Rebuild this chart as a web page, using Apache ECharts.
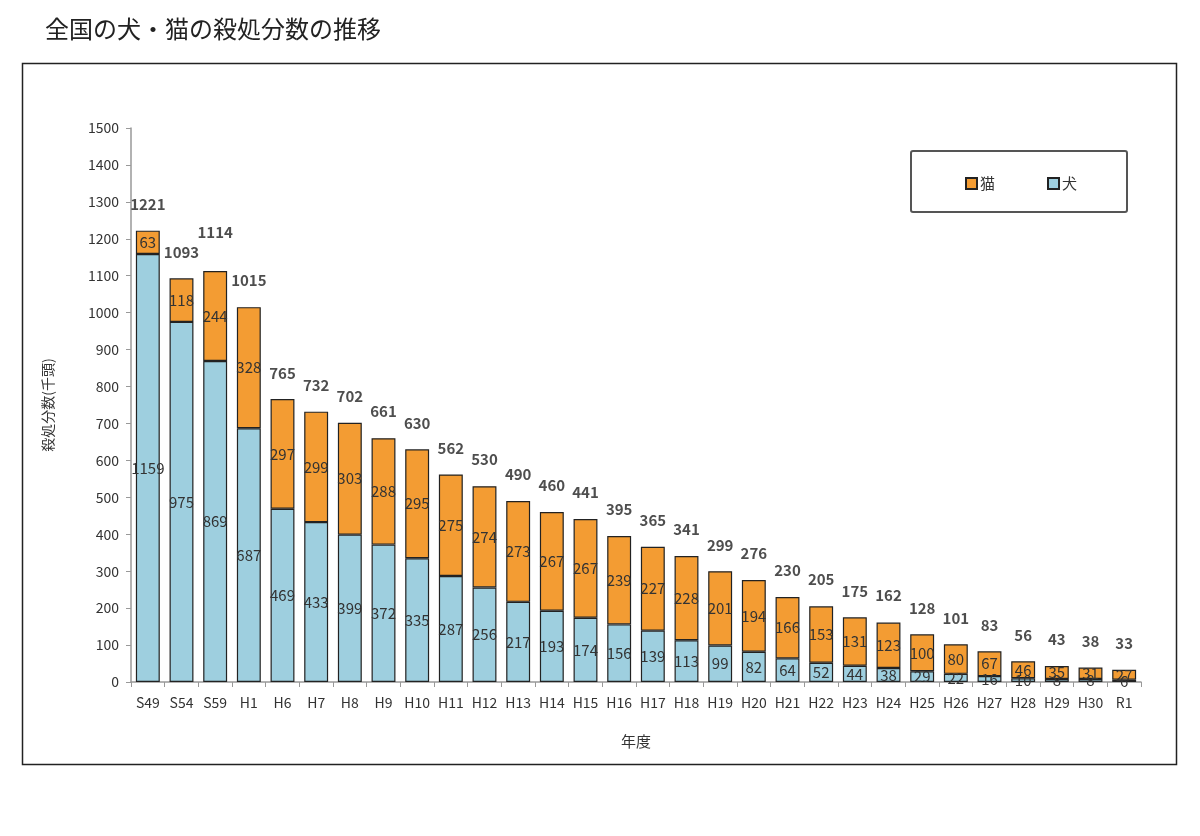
<!DOCTYPE html>
<html>
<head>
<meta charset="utf-8">
<script src="https://cdn.jsdelivr.net/npm/echarts@6/dist/echarts.min.js"></script>
<style>
html,body{margin:0;padding:0;background:#fff;}
#c{width:1200px;height:836px;}
</style>
</head>
<body>
<div id="c"></div>
<script>
const categories = ['S49','S54','S59','H1','H6','H7','H8','H9','H10','H11','H12','H13','H14','H15','H16','H17','H18','H19','H20','H21','H22','H23','H24','H25','H26','H27','H28','H29','H30','R1'];
const dogs = [1159,975,869,687,469,433,399,372,335,287,256,217,193,174,156,139,113,99,82,64,52,44,38,29,22,16,10,8,8,6];
const cats = [63,118,244,328,297,299,303,288,295,275,274,273,267,267,239,227,228,201,194,166,153,131,123,100,80,67,46,35,31,27];
const totals = [1221,1093,1114,1015,765,732,702,661,630,562,530,490,460,441,395,365,341,299,276,230,205,175,162,128,101,83,56,43,38,33];
const yTicks = {min:0, max:1500, interval:100};

const FONT = '"Noto Sans CJK JP", "Noto Sans", sans-serif';
const totalData = totals.map((v, i) => i === 2 ? {value: v, label: {distance: 31}} : v);
const chart = echarts.init(document.getElementById('c'));
chart.setOption({
  animation:false,
  textStyle:{fontFamily:FONT},
  title:{text:'全国の犬・猫の殺処分数の推移', left:40, top:12,
    textStyle:{fontSize:24, fontWeight:'normal', color:'#222', fontFamily:FONT}},
  graphic:[
    {type:'rect', shape:{x:22.5,y:63.5,width:1154,height:701}, style:{fill:'none', stroke:'#222', lineWidth:1.5}, silent:true},
    {type:'rect', shape:{x:911,y:151,width:216,height:61, r:2}, style:{fill:'#fff', stroke:'#555', lineWidth:2}, silent:true, z:0}
  ],
  legend:{left:960, top:171, itemWidth:11, itemHeight:11, itemGap:52, icon:'rect',
    data:['猫','犬'], textStyle:{fontSize:15, color:'#333', padding:[0,0,0,-2]}, z:10},
  grid:{left:131, right:59, top:128, bottom:154},
  xAxis:{type:'category', data:categories, name:'年度', nameLocation:'middle', nameGap:52,
    nameTextStyle:{fontSize:15, color:'#333'},
    axisLine:{lineStyle:{color:'#999', width:1.5}},
    axisTick:{show:true, length:5, lineStyle:{color:'#999'}},
    axisLabel:{fontSize:14, color:'#333', margin:14, interval:0}},
  yAxis:{type:'value', min:yTicks.min, max:yTicks.max, interval:yTicks.interval,
    name:'殺処分数(千頭)', nameLocation:'middle', nameGap:76, nameRotate:90,
    nameTextStyle:{fontSize:14, color:'#333'},
    axisLine:{show:true, lineStyle:{color:'#999', width:1.5}},
    axisTick:{show:true, length:5, lineStyle:{color:'#999'}},
    axisLabel:{fontSize:14, color:'#333', margin:12, formatter:(v) => String(v)},
    splitLine:{show:false}},
  series:[
    {name:'犬', type:'bar', stack:'a', data:dogs, barWidth:'71%',
      itemStyle:{color:'#9ECFDF', borderColor:'#222', borderWidth:1.2},
      label:{show:true, position:'inside', fontSize:15, color:'#333'}},
    {name:'猫', type:'bar', stack:'a', data:cats, barWidth:'71%',
      itemStyle:{color:'#F39C33', borderColor:'#222', borderWidth:1.2},
      label:{show:true, position:'inside', fontSize:15, color:'#333'}},
    {name:'合計', type:'scatter', data:totalData, symbolSize:0, silent:true,
      label:{show:true, position:'top', distance:19, fontSize:15, fontWeight:'bold', color:'#222'}}
  ]
});
</script>
</body>
</html>
